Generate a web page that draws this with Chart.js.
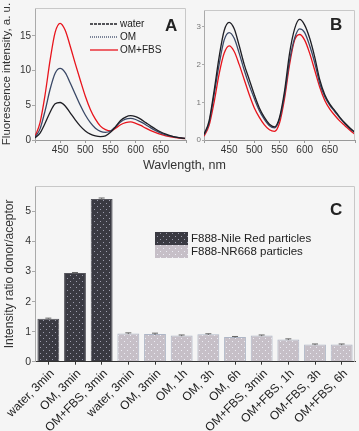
<!DOCTYPE html>
<html>
<head>
<meta charset="utf-8">
<script src="https://cdn.jsdelivr.net/npm/chart.js@4"></script>
<style>
  html, body { margin: 0; padding: 0; background: #f5f5f5; }
  #wrap { position: relative; width: 359px; height: 431px; overflow: hidden; background: #f5f5f5;
          font-family: "Liberation Sans", Arial, sans-serif; }
  canvas { position: absolute; }
  .lbl { position: absolute; white-space: nowrap; color: #222; }
  .panel { font-weight: bold; font-size: 17px; }
</style>
</head>
<body>
<div id="wrap">
  <canvas id="cA" width="192" height="160" style="left:0;top:0"></canvas>
  <canvas id="cB" width="167" height="160" style="left:192px;top:0"></canvas>
  <canvas id="cC" width="359" height="256" style="left:0;top:175px"></canvas>
  <div class="lbl" style="left:143px;top:158px;font-size:12.5px;color:#333">Wavlength, nm</div>
  <div class="lbl panel" style="left:165px;top:16px">A</div>
  <div class="lbl panel" style="left:330px;top:15px">B</div>
  <div class="lbl panel" style="left:330px;top:200px">C</div>
</div>
<script>
// wavelengths, nm
const WL = [400, 410, 420, 430, 440, 450, 460, 470, 480, 490, 500, 510, 520, 530, 540, 550,
            560, 570, 580, 590, 600, 610, 620, 630, 640, 650, 660, 670, 680, 690, 700];

// panel A (F888-Nile Red particles)
const A_water = [0.3, 1.0, 2.4, 4.0, 5.2, 5.4, 4.9, 3.9, 2.9, 2.0, 1.3, 0.85, 0.6, 0.5, 0.6, 1.1,
                 1.9, 2.8, 3.3, 3.5, 3.35, 3.0, 2.5, 2.0, 1.55, 1.15, 0.85, 0.6, 0.42, 0.3, 0.22];
const A_om    = [0.4, 1.6, 4.2, 7.3, 9.6, 10.3, 9.7, 8.2, 6.6, 5.0, 3.6, 2.5, 1.7, 1.25, 1.1, 1.3,
                 1.9, 2.6, 3.0, 3.1, 2.95, 2.6, 2.2, 1.75, 1.35, 1.0, 0.75, 0.55, 0.4, 0.3, 0.22];
const A_omfbs = [0.5, 2.5, 6.5, 11.5, 15.5, 16.8, 15.8, 13.5, 11.0, 8.6, 6.3, 4.4, 3.0, 2.0, 1.5, 1.3,
                 1.7, 2.2, 2.5, 2.6, 2.4, 2.1, 1.7, 1.35, 1.05, 0.8, 0.6, 0.45, 0.35, 0.25, 0.2];

// panel B (F888-NR668 particles)
const B_water = [0.15, 0.5, 1.3, 2.2, 2.9, 3.12, 2.95, 2.5, 2.0, 1.6, 1.2, 0.85, 0.6, 0.42, 0.35, 0.6,
                 1.3, 2.3, 2.95, 3.2, 3.05, 2.7, 2.2, 1.6, 1.2, 0.95, 0.78, 0.6, 0.45, 0.32, 0.2];
const B_om    = [0.13, 0.45, 1.2, 2.0, 2.65, 2.85, 2.7, 2.3, 1.85, 1.45, 1.1, 0.78, 0.55, 0.38, 0.32, 0.55,
                 1.2, 2.1, 2.7, 2.95, 2.85, 2.5, 2.05, 1.5, 1.15, 0.92, 0.75, 0.58, 0.43, 0.3, 0.2];
const B_omfbs = [0.1, 0.38, 1.0, 1.75, 2.3, 2.5, 2.35, 2.0, 1.6, 1.2, 0.85, 0.6, 0.4, 0.27, 0.23, 0.45,
                 1.1, 2.0, 2.65, 2.8, 2.65, 2.3, 1.85, 1.4, 1.05, 0.82, 0.65, 0.5, 0.38, 0.26, 0.15];

const SERIES = ['water', 'OM', 'OM+FBS'];

// panel C
const C_labels = ['water, 3min', 'OM, 3min', 'OM+FBS, 3min', 'water, 3min', 'OM, 3min', 'OM, 1h',
                  'OM, 3h', 'OM, 6h', 'OM+FBS, 3min', 'OM+FBS, 1h', 'OM-FBS, 3h', 'OM+FBS, 6h'];
const C_nileRed = [1.43, 2.95, 5.42, null, null, null, null, null, null, null, null, null];
const C_nr668   = [null, null, null, 0.94, 0.92, 0.87, 0.91, 0.82, 0.87, 0.74, 0.57, 0.57];
const C_err     = [0.02, 0.02, 0.03, 0.02, 0.03, 0.02, 0.02, 0.02, 0.02, 0.02, 0.02, 0.02];

const FONT = '"Liberation Sans", Arial, sans-serif';
const COL_W = '#1e1e24', COL_OM = '#3a4866', COL_RED = '#e8141c';

function dots(bg, dot) {
  const c = document.createElement('canvas');
  c.width = 6; c.height = 6;
  const g = c.getContext('2d');
  g.fillStyle = bg; g.fillRect(0, 0, 6, 6);
  g.fillStyle = dot; g.fillRect(1, 1, 1, 1); g.fillRect(4, 4, 1, 1);
  return g.createPattern(c, 'repeat');
}

function pts(arr) { return WL.map((w, i) => ({ x: w, y: arr[i] })); }

function line(label, arr, color) {
  return { label, data: pts(arr), borderColor: color, borderWidth: 1.3, pointRadius: 0,
           cubicInterpolationMode: 'monotone', fill: false };
}

// keep only ticks on the step (drop the odd max value)
function onStep(step) {
  return s => { s.ticks = s.ticks.filter(t => Math.abs(t.value / step - Math.round(t.value / step)) < 1e-6); };
}

// frame around the plot area
const framePlugin = {
  id: 'frame',
  afterDraw(chart, args, opts) {
    const a = chart.chartArea, ctx = chart.ctx;
    ctx.save();
    ctx.strokeStyle = opts.color || '#c8c8c8';
    ctx.lineWidth = 1;
    ctx.beginPath();
    ctx.moveTo(a.left, a.top + 0.5); ctx.lineTo(a.right - 0.5, a.top + 0.5); ctx.lineTo(a.right - 0.5, a.bottom);
    ctx.stroke();
    ctx.restore();
  }
};

// hand placed line legend (panel A)
const lineLegend = {
  id: 'lineLegend',
  afterDraw(chart, args, opts) {
    if (!opts.x) return;
    const ctx = chart.ctx;
    const dashes = [[3, 1], [1, 1], []];
    ctx.save();
    ctx.font = '10px ' + FONT;
    ctx.textBaseline = 'middle';
    chart.data.datasets.forEach((ds, i) => {
      const y = opts.y + i * opts.step;
      ctx.strokeStyle = ds.borderColor;
      ctx.lineWidth = 1.3;
      ctx.setLineDash(dashes[i]);
      ctx.beginPath(); ctx.moveTo(opts.x, y); ctx.lineTo(opts.x + 28, y); ctx.stroke();
      ctx.setLineDash([]);
      ctx.fillStyle = '#222';
      ctx.fillText(ds.label, opts.x + 30, y);
    });
    ctx.restore();
  }
};

function spectrumChart(id, sets, o) {
  return new Chart(document.getElementById(id), {
    type: 'line',
    data: { datasets: sets },
    plugins: [framePlugin, lineLegend],
    options: {
      responsive: false, animation: false,
      layout: { padding: { top: o.top, right: o.right, left: 0, bottom: 0 } },
      plugins: { legend: { display: false }, tooltip: { enabled: false },
                 lineLegend: o.legend || {} },
      scales: {
        x: {
          type: 'linear', min: 400, max: 700,
          afterFit(s) { s.height = 20; },
          grid: { drawOnChartArea: false, tickLength: 3, color: '#999' },
          border: { color: '#999' },
          ticks: { stepSize: 50, padding: 1, color: '#333', font: { size: 10, family: FONT },
                   maxRotation: 0, autoSkip: false,
                   callback: v => (v === 400 || v === 700) ? '' : v }
        },
        y: {
          min: 0, max: o.ymax,
          afterBuildTicks: onStep(o.ystep),
          afterFit(s) { s.width = o.yw; },
          grid: { drawOnChartArea: false, tickLength: o.tl, color: '#aaa' },
          border: { color: '#aaa' },
          title: o.ytitle ? { display: true, text: o.ytitle, color: '#333', padding: { top: 0, bottom: 0 },
                              font: { size: 11.5, family: FONT } } : { display: false },
          ticks: { stepSize: o.ystep, padding: 1, color: o.ytc, font: { size: o.yfs, family: FONT } }
        }
      }
    }
  });
}

spectrumChart('cA', [line(SERIES[0], A_water, COL_W), line(SERIES[1], A_om, COL_OM), line(SERIES[2], A_omfbs, COL_RED)],
  { top: 8, right: 6, ymax: 19, ystep: 5, yw: 35, tl: 3, ytc: '#333', yfs: 10,
    ytitle: 'Fluorescence intensity, a. u.', legend: { x: 90, y: 24, step: 13 } });

spectrumChart('cB', [line(SERIES[0], B_water, COL_W), line(SERIES[1], B_om, COL_OM), line(SERIES[2], B_omfbs, COL_RED)],
  { top: 10, right: 4, ymax: 3.45, ystep: 1, yw: 12, tl: 2, ytc: '#777', yfs: 8 });

// panel C: bars
const darkFill = dots('#3a3a42', '#9c9cac');
const lightFill = dots('#c6bfc7', '#ececf4');

const errPlugin = {
  id: 'errBars',
  afterDatasetsDraw(chart) {
    const ctx = chart.ctx, ys = chart.scales.y;
    ctx.save();
    ctx.strokeStyle = '#666'; ctx.lineWidth = 1;
    chart.data.datasets.forEach((ds, di) => {
      chart.getDatasetMeta(di).data.forEach((bar, i) => {
        const v = ds.data[i];
        if (v == null) return;
        const y1 = ys.getPixelForValue(v + C_err[i]), y0 = ys.getPixelForValue(v - C_err[i]);
        ctx.beginPath();
        ctx.moveTo(bar.x, y0); ctx.lineTo(bar.x, y1);
        ctx.moveTo(bar.x - 3, y1); ctx.lineTo(bar.x + 3, y1);
        ctx.stroke();
      });
    });
    ctx.restore();
  }
};

const boxLegend = {
  id: 'boxLegend',
  afterDraw(chart, args, opts) {
    const ctx = chart.ctx;
    ctx.save();
    ctx.font = '11.5px ' + FONT;
    ctx.textBaseline = 'middle';
    chart.data.datasets.forEach((ds, i) => {
      const y = opts.y + i * opts.h;
      ctx.fillStyle = ds.backgroundColor;
      ctx.fillRect(opts.x, y, opts.w, opts.h);
      ctx.fillStyle = '#222';
      ctx.fillText(ds.label, opts.x + opts.w + 3, y + opts.h / 2);
    });
    ctx.restore();
  }
};

new Chart(document.getElementById('cC'), {
  type: 'bar',
  data: {
    labels: C_labels,
    datasets: [
      { label: 'F888-Nile Red particles', data: C_nileRed, backgroundColor: darkFill,
        borderColor: '#55555c', borderWidth: 1, grouped: false },
      { label: 'F888-NR668 particles', data: C_nr668, backgroundColor: lightFill,
        borderColor: '#aeb6c6', borderWidth: 1, grouped: false }
    ]
  },
  plugins: [framePlugin, errPlugin, boxLegend],
  options: {
    responsive: false, animation: false,
    categoryPercentage: 1, barPercentage: 0.82,
    layout: { padding: { top: 11, right: 4, left: 0, bottom: 0 } },
    plugins: { legend: { display: false }, tooltip: { enabled: false },
               boxLegend: { x: 155, y: 57, w: 33, h: 13 } },
    scales: {
      x: {
        afterFit(s) { s.height = 69.3; },
        grid: { drawOnChartArea: false, tickLength: 3, color: '#333', offset: false },
        border: { color: '#333' },
        ticks: { minRotation: 45, maxRotation: 45, autoSkip: false, padding: 2, labelOffset: 4,
                 color: '#222', font: { size: 12, family: FONT } }
      },
      y: {
        min: 0, max: 5.85,
        afterBuildTicks: onStep(1),
        afterFit(s) { s.width = 35; },
        grid: { drawOnChartArea: false, tickLength: 3, color: '#aaa' },
        border: { color: '#aaa' },
        title: { display: true, text: 'Intensity ratio donor/aceptor', color: '#333', padding: { top: 2, bottom: 0 },
                 font: { size: 12, family: FONT } },
        ticks: { stepSize: 1, padding: 1, color: '#333', font: { size: 10.5, family: FONT } }
      }
    }
  }
});
</script>
</body>
</html>
